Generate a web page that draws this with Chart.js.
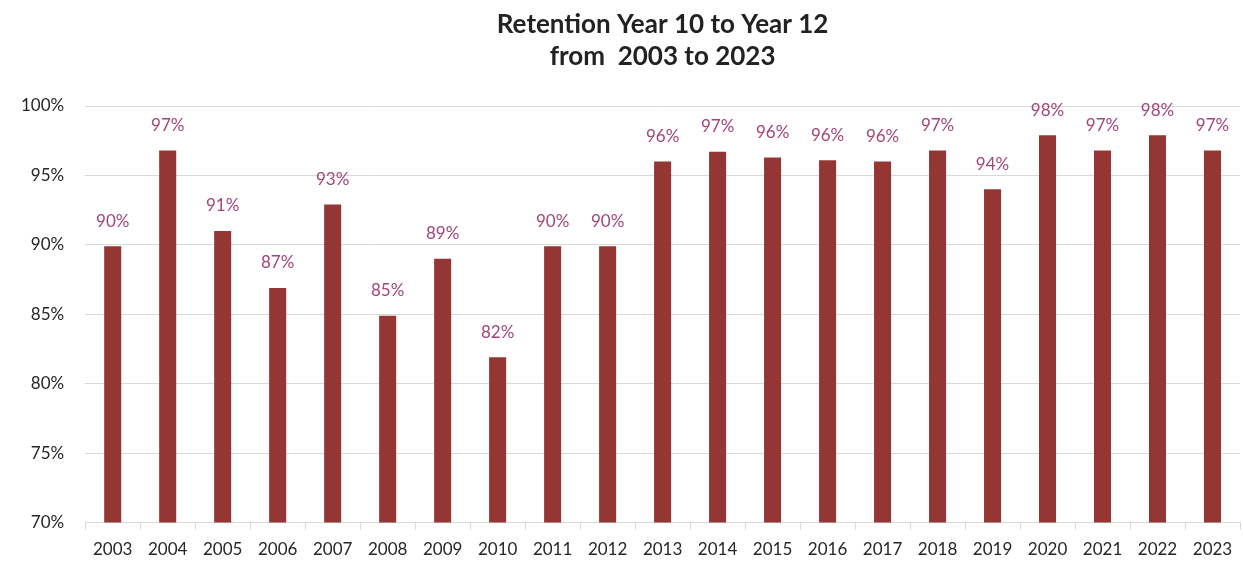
<!DOCTYPE html>
<html>
<head>
<meta charset="utf-8">
<script src="https://cdn.jsdelivr.net/npm/chart.js@4.4.1/dist/chart.umd.min.js"></script>
<style>
html,body{margin:0;padding:0;background:#fff;}
#wrap{width:1243px;height:563px;position:relative;}
</style>
</head>
<body>
<div id="wrap"><canvas id="c" width="1243" height="563"></canvas></div>
<script>
const years = ['2003','2004','2005','2006','2007','2008','2009','2010','2011','2012','2013','2014','2015','2016','2017','2018','2019','2020','2021','2022','2023'];
const retention = [89.9, 96.8, 91.0, 86.9, 92.9, 84.9, 89.0, 81.9, 89.9, 89.9, 96.0, 96.7, 96.3, 96.1, 96.0, 96.8, 94.0, 97.9, 96.8, 97.9, 96.8];
const titleLines = ['Retention Year 10 to Year 12', 'from  2003 to 2023'];
const yMin = 70, yMax = 100, yStep = 5;

// Title centred over the plot area (as in the reference)
const plotTitle = {
  id: 'plotTitle',
  afterDraw(chart) {
    const ctx = chart.ctx;
    const a = chart.chartArea;
    const cx = (a.left + a.right) / 2;
    ctx.save();
    ctx.font = 'bold 26px Lato, "Open Sans", sans-serif';
    ctx.fillStyle = '#222222';
    ctx.textAlign = 'center';
    ctx.textBaseline = 'middle';
    titleLines.forEach((t, i) => ctx.fillText(t, cx, 25 + i * 32));
    ctx.restore();
  }
};

const barLabels = {
  id: 'barLabels',
  afterDatasetsDraw(chart) {
    const ctx = chart.ctx;
    const meta = chart.getDatasetMeta(0);
    ctx.save();
    ctx.font = '17px Lato, "DejaVu Sans", sans-serif';
    ctx.fillStyle = '#a3467a';
    ctx.textAlign = 'center';
    ctx.textBaseline = 'middle';
    meta.data.forEach((bar, i) => {
      ctx.fillText(Math.round(retention[i]) + '%', bar.x, bar.y - 25);
    });
    ctx.restore();
  }
};

new Chart(document.getElementById('c'), {
  type: 'bar',
  data: {
    labels: years,
    datasets: [{
      data: retention,
      backgroundColor: '#943634',
      borderWidth: 0,
      categoryPercentage: 1.0,
      barPercentage: 0.31
    }]
  },
  options: {
    responsive: false,
    animation: false,
    layout: { padding: { left: 0, right: 3, top: 106, bottom: -7 } },
    plugins: {
      legend: { display: false },
      tooltip: { enabled: false },
      title: { display: false }
    },
    scales: {
      x: {
        grid: { display: true, drawOnChartArea: false, drawTicks: true, tickLength: 7, color: '#d9d9d9', offset: true },
        border: { display: true, color: '#d9d9d9', width: 1 },
        ticks: { color: '#262626', font: { family: 'Lato, "Open Sans", sans-serif', size: 17 }, padding: 10, maxRotation: 0, autoSkip: false }
      },
      y: {
        min: yMin, max: yMax,
        grid: { color: '#d9d9d9', drawTicks: false },
        border: { display: false },
        ticks: { stepSize: yStep, color: '#262626', font: { family: 'Lato, "Open Sans", sans-serif', size: 17 }, padding: 21, callback: v => v + '%' }
      }
    }
  },
  plugins: [barLabels, plotTitle]
});
</script>
</body>
</html>
